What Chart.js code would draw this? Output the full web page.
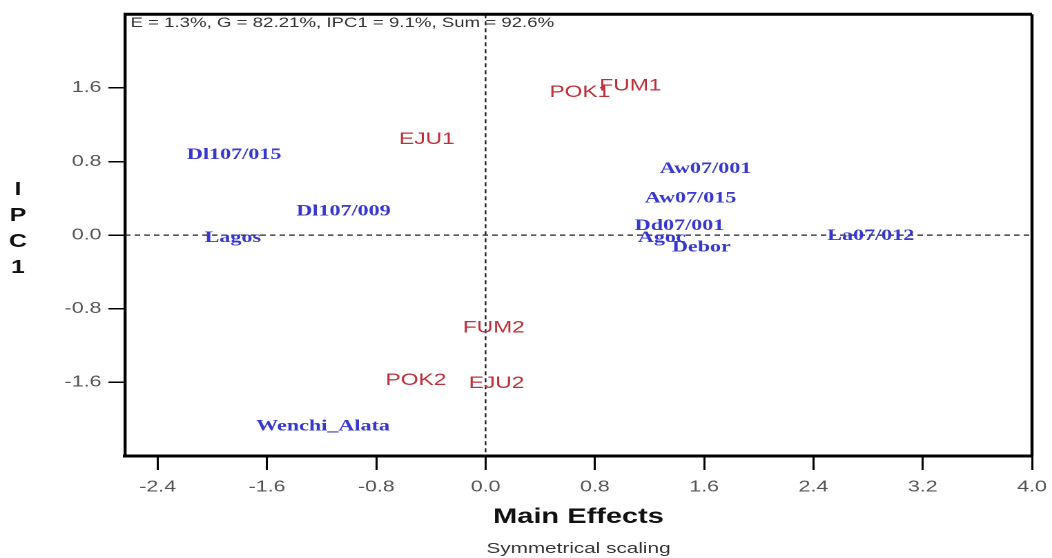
<!DOCTYPE html>
<html>
<head>
<meta charset="utf-8">
<script src="https://cdn.jsdelivr.net/npm/chart.js@4"></script>
<style>
  html, body { margin: 0; padding: 0; background: #fff; overflow: hidden; }
  /* the source picture is stretched sideways, so the chart is drawn narrow and widened */
  #wrap { width: 762px; height: 558px; transform: scaleX(1.3806); transform-origin: 0 0; }
</style>
</head>
<body>
<div id="wrap"><canvas id="biplot"></canvas></div>
<script>
// genotypes (blue)
const genotypes = ['Dl107/015', 'Dl107/009', 'Lagos', 'Wenchi_Alata', 'Aw07/001', 'Aw07/015',
                   'Dd07/001', 'Agoc', 'Debor', 'La07/012'];
const genoMain = [-1.84, -1.04, -1.85, -1.19, 1.61, 1.50, 1.42, 1.29, 1.58, 2.82];
const genoIPC1 = [0.87, 0.26, -0.03, -2.08, 0.72, 0.40, 0.10, -0.03, -0.13, -0.01];

// environments (red)
const environments = ['POK1', 'FUM1', 'EJU1', 'FUM2', 'POK2', 'EJU2'];
const envMain = [0.69, 1.06, -0.43, 0.06, -0.51, 0.08];
const envIPC1 = [1.55, 1.62, 1.04, -1.01, -1.58, -1.61];

const xTicks = [-2.4, -1.6, -0.8, 0.0, 0.8, 1.6, 2.4, 3.2, 4.0];
const yTicks = [-1.6, -0.8, 0.0, 0.8, 1.6];
const header = 'E = 1.3%, G = 82.21%, IPC1 = 9.1%, Sum = 92.6%';

const toPoints = (xs, ys) => xs.map((x, i) => ({ x: x, y: ys[i] }));

const biplotExtras = {
  id: 'biplotExtras',
  beforeDatasetsDraw(chart) {
    const { ctx, chartArea: a, scales: { x, y } } = chart;
    ctx.save();
    ctx.strokeStyle = '#222';
    ctx.lineWidth = 1.2;
    ctx.setLineDash([4, 3]);
    ctx.beginPath();
    const x0 = x.getPixelForValue(0), y0 = y.getPixelForValue(0);
    ctx.moveTo(x0, a.top); ctx.lineTo(x0, a.bottom);
    ctx.moveTo(a.left, y0); ctx.lineTo(a.right, y0);
    ctx.stroke();
    ctx.restore();
  },
  afterDatasetsDraw(chart) {
    const { ctx, chartArea: a } = chart;
    ctx.save();
    ctx.textAlign = 'center';
    ctx.textBaseline = 'middle';
    chart.data.datasets.forEach((ds, i) => {
      ctx.font = ds.labelFont;
      ctx.fillStyle = ds.labelColor;
      chart.getDatasetMeta(i).data.forEach((pt, j) => {
        ctx.fillText(ds.names[j], pt.x, pt.y);
      });
    });

    // frame top + right
    ctx.strokeStyle = '#000';
    ctx.lineWidth = 3;
    ctx.beginPath();
    ctx.moveTo(a.left - 1, a.top); ctx.lineTo(a.right, a.top);
    ctx.stroke();
    ctx.lineWidth = 2.2;
    ctx.beginPath();
    ctx.moveTo(a.right, a.top); ctx.lineTo(a.right, a.bottom);
    ctx.stroke();

    // variance text
    ctx.textAlign = 'left';
    ctx.fillStyle = '#333';
    ctx.font = '13.5px "Liberation Sans", Arial, sans-serif';
    ctx.fillText(header, a.left + 4, a.top + 9);

    // stacked y title
    ctx.textAlign = 'center';
    ctx.fillStyle = '#111';
    ctx.font = 'bold 18px "Liberation Sans", Arial, sans-serif';
    'IPC1'.split('').forEach((c, k) => ctx.fillText(c, 13, 190 + k * 26));
    ctx.restore();
  }
};

new Chart(document.getElementById('biplot'), {
  type: 'scatter',
  data: {
    datasets: [
      {
        label: 'Genotypes',
        data: toPoints(genoMain, genoIPC1),
        names: genotypes,
        labelColor: '#3838cf',
        labelFont: 'bold 16px "Liberation Serif", "Times New Roman", serif',
        pointRadius: 0
      },
      {
        label: 'Environments',
        data: toPoints(envMain, envIPC1),
        names: environments,
        labelColor: '#c0303a',
        labelFont: '16.5px "Liberation Sans", Arial, sans-serif',
        pointRadius: 0
      }
    ]
  },
  options: {
    responsive: true,
    maintainAspectRatio: false,
    devicePixelRatio: 2,
    animation: false,
    events: [],
    layout: { padding: { left: 0, right: 14.5, top: 12, bottom: 0 } },
    plugins: {
      legend: { display: false },
      tooltip: { enabled: false },
      subtitle: {
        display: true,
        position: 'bottom',
        fullSize: false,
        text: 'Symmetrical scaling',
        color: '#333',
        font: { family: '"Liberation Sans", Arial, sans-serif', size: 15, weight: 'normal', lineHeight: 1.2 },
        padding: { top: 10, bottom: 0 }
      }
    },
    scales: {
      x: {
        type: 'linear',
        min: -2.64,
        max: 4.0,
        afterBuildTicks: s => { s.ticks = xTicks.map(v => ({ value: v })); },
        afterFit: s => { s.height = 74; s.paddingLeft = 0; s.paddingRight = 0; },
        ticks: {
          color: '#555',
          padding: 8,
          font: { family: '"Liberation Sans", Arial, sans-serif', size: 15.5 },
          callback: v => v.toFixed(1)
        },
        grid: { drawOnChartArea: false, drawTicks: true, tickLength: 14, color: '#000', lineWidth: 1.5 },
        border: { display: true, color: '#000', width: 3 },
        title: {
          display: true,
          text: 'Main Effects',
          color: '#111',
          font: { family: '"Liberation Sans", Arial, sans-serif', size: 21, weight: 'bold', lineHeight: 1.2 },
          padding: { top: 0, bottom: 0 }
        }
      },
      y: {
        type: 'linear',
        min: -2.4,
        max: 2.4,
        afterBuildTicks: s => { s.ticks = yTicks.map(v => ({ value: v })); },
        afterFit: s => { s.width = 90.5; },
        ticks: {
          color: '#555',
          padding: 5,
          font: { family: '"Liberation Sans", Arial, sans-serif', size: 15.5 },
          callback: v => v.toFixed(1)
        },
        grid: { drawOnChartArea: false, drawTicks: true, tickLength: 12, color: '#000', lineWidth: 1.5 },
        border: { display: true, color: '#000', width: 2.2 }
      }
    }
  },
  plugins: [biplotExtras]
});
</script>
</body>
</html>
